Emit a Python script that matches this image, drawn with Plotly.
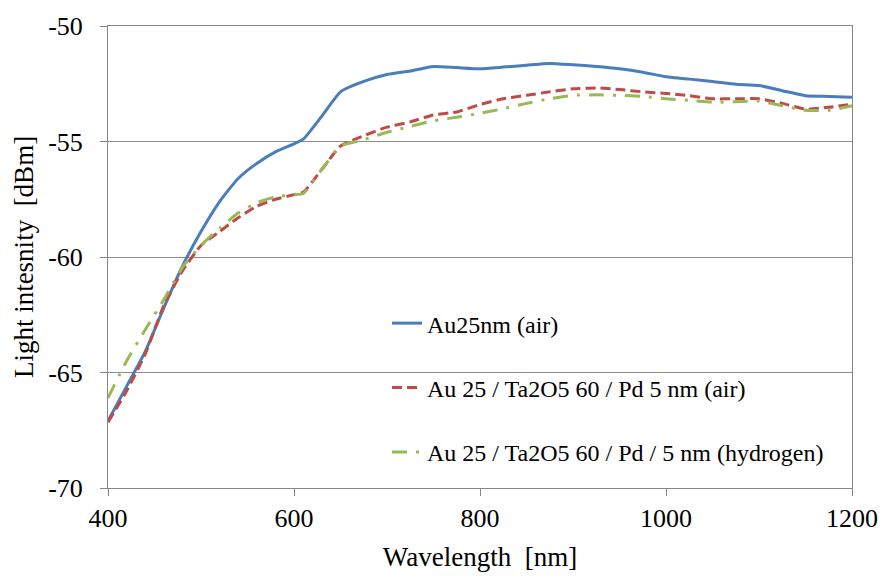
import plotly.graph_objects as go

wavelength = [400, 420, 440, 460, 480, 500, 520, 540, 560, 580, 600, 610, 630, 650, 675,
              700, 725, 750, 775, 800, 825, 850, 875, 900, 925, 950, 975, 1000, 1025,
              1050, 1075, 1100, 1125, 1150, 1175, 1200]

au_air = [-67.1, -65.6, -64.1, -62.2, -60.4, -58.9, -57.6, -56.6, -55.95, -55.45, -55.1,
          -54.9, -53.9, -52.85, -52.4, -52.1, -51.95, -51.75, -51.8, -51.85, -51.78, -51.7,
          -51.62, -51.68, -51.75, -51.85, -52.0, -52.2, -52.3, -52.4, -52.52, -52.58,
          -52.8, -53.02, -53.05, -53.08]

pd_air = [-67.15, -65.8, -64.2, -62.1, -60.6, -59.5, -58.9, -58.3, -57.8, -57.5, -57.3,
          -57.2, -56.2, -55.2, -54.75, -54.38, -54.15, -53.85, -53.72, -53.4, -53.15,
          -53.0, -52.85, -52.72, -52.68, -52.75, -52.85, -52.92, -53.02, -53.15, -53.15,
          -53.15, -53.35, -53.6, -53.52, -53.38]

pd_h2 = [-66.1, -64.5, -63.15, -61.85, -60.45, -59.5, -58.75, -58.1, -57.65, -57.4, -57.3,
         -57.25, -56.2, -55.2, -54.92, -54.6, -54.35, -54.1, -53.95, -53.78, -53.58,
         -53.35, -53.15, -53.0, -52.98, -53.0, -53.05, -53.15, -53.22, -53.3, -53.28,
         -53.25, -53.45, -53.65, -53.65, -53.45]

names = ["Au25nm (air)",
         "Au 25 / Ta2O5 60 / Pd 5 nm (air)",
         "Au 25 / Ta2O5 60 / Pd / 5 nm (hydrogen)"]

x_ticks = [400, 600, 800, 1000, 1200]
y_ticks = [-70, -65, -60, -55, -50]

FONT = "'Times New Roman', 'Liberation Serif', 'DejaVu Serif', serif"

fig = go.Figure()
fig.add_trace(go.Scatter(x=wavelength, y=au_air, mode="lines", name=names[0], showlegend=True,
                         line=dict(color="#4A7EBB", width=3, shape="spline", smoothing=0.5),
                         legend="legend"))
fig.add_trace(go.Scatter(x=wavelength, y=pd_air, mode="lines", name=names[1], showlegend=True,
                         line=dict(color="#BE4B48", width=3, dash="10px,5px", shape="spline", smoothing=0.5),
                         legend="legend2"))
fig.add_trace(go.Scatter(x=wavelength, y=pd_h2, mode="lines", name=names[2], showlegend=True,
                         line=dict(color="#98B954", width=3, dash="15px,9px,3px,9px", shape="spline", smoothing=0.5),
                         legend="legend3"))

leg_common = dict(x=0.375, xanchor="left", yanchor="middle", bgcolor="rgba(0,0,0,0)",
                  font=dict(family=FONT, size=24, color="#000000"), borderwidth=0)

fig.update_layout(
    width=890, height=582,
    showlegend=True,
    margin=dict(l=108, r=35, t=22, b=94),
    paper_bgcolor="white", plot_bgcolor="white",
    font=dict(family=FONT, color="#000000"),
    legend=dict(y=0.356, **leg_common),
    legend2=dict(y=0.2166, **leg_common),
    legend3=dict(y=0.0772, **leg_common),
    xaxis=dict(range=[400, 1200], tickvals=x_ticks, ticktext=[str(v) for v in x_ticks],
               showgrid=False, showline=True, linecolor="#868686", linewidth=1, mirror=True,
               ticks="outside", ticklen=7, tickcolor="#868686",
               tickfont=dict(family=FONT, size=26), zeroline=False,
               title=dict(text="Wavelength  [nm]", font=dict(family=FONT, size=27), standoff=14)),
    yaxis=dict(range=[-70, -50], tickvals=y_ticks, ticktext=[str(v) for v in y_ticks],
               showgrid=True, gridcolor="#8C8C8C", gridwidth=1,
               showline=True, linecolor="#868686", linewidth=1, mirror=True,
               ticks="outside", ticklen=7, tickcolor="#868686", ticklabelstandoff=12,
               tickfont=dict(family=FONT, size=26), zeroline=False,
               title=dict(text="Light intesnity  [dBm]", font=dict(family=FONT, size=27), standoff=6)),
)

fig.write_html("out.html")
